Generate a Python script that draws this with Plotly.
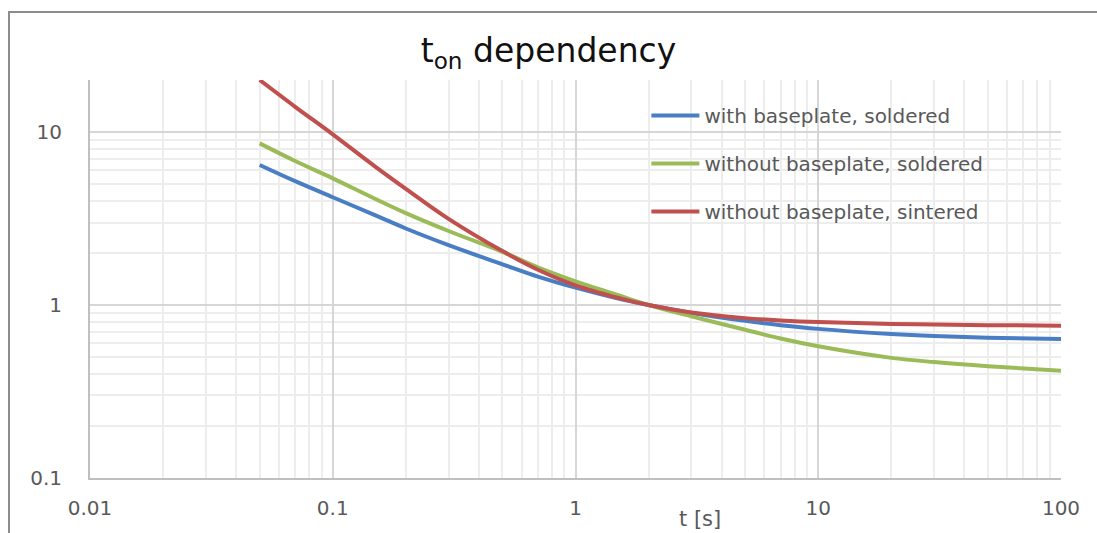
import plotly.graph_objects as go

t = [0.05, 0.07, 0.1, 0.15, 0.2, 0.3, 0.5, 0.7, 1, 1.5, 2, 3, 5, 7, 10, 20, 30, 50, 100]
blue = [6.45, 5.2, 4.2, 3.3, 2.77, 2.22, 1.72, 1.46, 1.26, 1.09, 1.0, 0.9, 0.81, 0.765, 0.728, 0.68, 0.662, 0.648, 0.636]
green = [8.6, 6.8, 5.4, 4.1, 3.4, 2.68, 2.03, 1.65, 1.37, 1.14, 1.0, 0.86, 0.72, 0.64, 0.577, 0.495, 0.468, 0.443, 0.417]
red = [20.0, 14.0, 9.7, 6.3, 4.7, 3.15, 2.05, 1.6, 1.30, 1.1, 1.0, 0.905, 0.84, 0.815, 0.797, 0.778, 0.771, 0.765, 0.76]

names = ["with baseplate, soldered", "without baseplate, soldered", "without baseplate, sintered"]
colors = ["#4A7EC4", "#9BBB59", "#C0504D"]

x_ticks = [0.01, 0.1, 1, 10, 100]
x_labels = ["0.01", "0.1", "1", "10", "100"]
y_ticks = [0.1, 1, 10]
y_labels = ["0.1", "1", "10"]

fig = go.Figure()
for i, (name, ys, c) in enumerate(zip(names, [blue, green, red], colors)):
    fig.add_trace(go.Scatter(x=t, y=ys, name=name, mode="lines",
                             line=dict(color=c, width=4, shape="spline", smoothing=1.0),
                             legendgroup=f"g{i}"))

grid_major = "#d6d6d6"
grid_minor = "#ededed"
FONT = "DejaVu Sans, Verdana, sans-serif"
tick_font = dict(family=FONT, size=20, color="#595959")

fig.update_xaxes(type="log", range=[-2, 2], tickvals=x_ticks, ticktext=x_labels,
                 showgrid=True, gridcolor=grid_major, gridwidth=2,
                 showline=True, linecolor="#bfbfbf", linewidth=2,
                 ticks="", tickfont=tick_font, ticklabelstandoff=11,
                 minor=dict(showgrid=True, gridcolor=grid_minor, dtick="D1", ticks=""),
                 zeroline=False)
fig.update_yaxes(type="log", range=[-1, 1.30103], tickvals=y_ticks, ticktext=y_labels,
                 showgrid=True, gridcolor=grid_major, gridwidth=2,
                 showline=True, linecolor="#bfbfbf", linewidth=2,
                 ticks="", tickfont=tick_font, ticklabelstandoff=22,
                 minor=dict(showgrid=True, gridcolor=grid_minor, dtick="D1", ticks=""),
                 zeroline=False)

fig.update_layout(
    width=1097, height=533,
    margin=dict(l=90, r=36, t=80, b=55),
    paper_bgcolor="white", plot_bgcolor="white",
    title=dict(text="t<sub>on</sub> dependency", x=0.5, xanchor="center",
               y=0.905, yanchor="middle",
               font=dict(family=FONT, size=33, color="#111111")),
    legend=dict(x=0.573, y=0.96, xanchor="left", yanchor="top",
                bgcolor="rgba(0,0,0,0)", tracegroupgap=19, itemwidth=48,
                font=dict(family=FONT, size=20, color="#595959")),
    showlegend=True,
    shapes=[dict(type="rect", xref="paper", yref="paper",
                 x0=(9 - 90) / 971, x1=(1110 - 90) / 971,
                 y0=(478 - 560) / 398, y1=(478 - 12) / 398,
                 line=dict(color="#8c8c8c", width=2), layer="below")],
    annotations=[dict(text="t [s]", xref="paper", yref="paper",
                      x=(700 - 90) / 971, y=(478 - 519) / 398,
                      xanchor="center", yanchor="middle", showarrow=False,
                      font=dict(family=FONT, size=21, color="#595959"))],
)

fig.write_html("out.html")
